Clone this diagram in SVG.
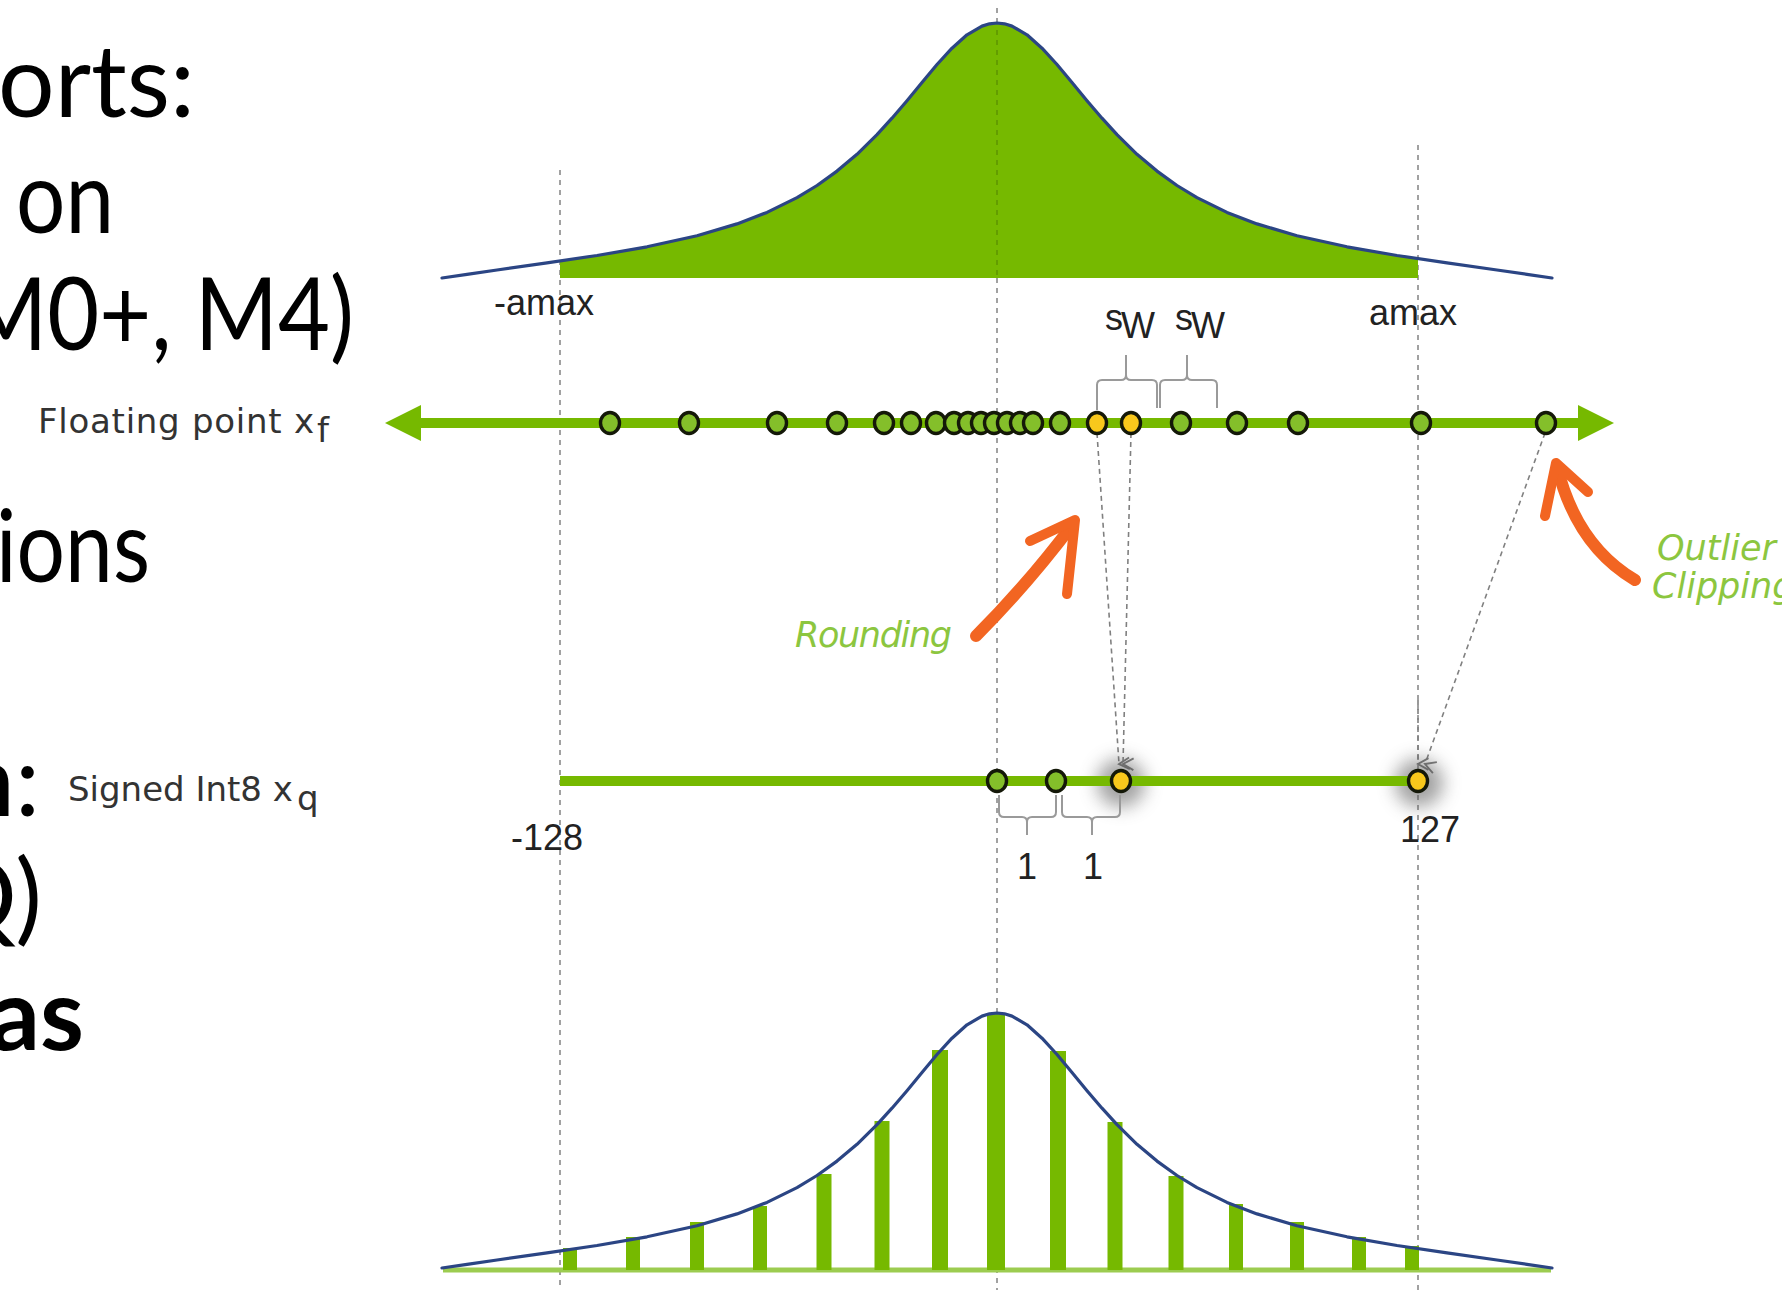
<svg xmlns="http://www.w3.org/2000/svg" xmlns:xlink="http://www.w3.org/1999/xlink" width="1782" height="1302" viewBox="0 0 1782 1302">
<defs>
<style>
.big{font-family:Lato,"Liberation Sans",sans-serif;font-size:100px;fill:#000}
.lbl{font-family:"DejaVu Sans",sans-serif;font-size:34px;fill:#333}
.num{font-family:"Liberation Sans",sans-serif;font-size:36px;fill:#222}
.hand{font-family:"DejaVu Sans",sans-serif;font-style:italic;font-size:35px;fill:#8cc63f}
.curve{fill:none;stroke:#2b4584;stroke-width:3.2;stroke-linejoin:round;stroke-linecap:round}
.vdash{stroke:#8a8a8a;stroke-width:1.6;stroke-dasharray:5 5;fill:none}
.ddash{stroke:#808080;stroke-width:1.6;stroke-dasharray:5 4;fill:none}
.axis{stroke:#76b900;stroke-width:10;fill:none}
.pt{fill:#84bf2a;stroke:#141808;stroke-width:3.4}
.yl{fill:#f8c81c;stroke:#141808;stroke-width:3.4}
.brace{fill:none;stroke:#9a9a9a;stroke-width:2}
.bar{stroke:#76b900;fill:none}
.orange{fill:none;stroke:#f26522;stroke-linecap:round;stroke-linejoin:round}
</style>
<polyline id="dist" class="curve" points="442,278 467,274.3 497,270 547,262.9 597,255.5 647,246.8 697,235.8 737,223.9 767,212.4 797,197.6 817,185.5 837,171.1 857,154.3 877,134.6 892,118.2 907,100.7 922,82.5 937,64.5 952,48.2 967,34.8 982,26.1 989.5,23.8 997,23 1004.5,23.8 1012,26.1 1027,34.8 1042,48.2 1057,64.5 1072,82.5 1087,100.7 1102,118.2 1117,134.6 1137,154.3 1157,171.1 1177,185.5 1197,197.6 1227,212.4 1257,223.9 1297,235.8 1347,246.8 1397,255.5 1447,262.9 1497,270 1527,274.3 1552,278"/>
<marker id="vhead" viewBox="0 0 12 12" refX="6" refY="10" markerWidth="14" markerHeight="14" markerUnits="userSpaceOnUse" orient="auto-start-reverse">
<path d="M1,1 L6,10 L11,1" fill="none" stroke="#7a7a7a" stroke-width="1.6"/>
</marker>
<filter id="glow" x="-1" y="-1" width="3" height="3">
<feGaussianBlur stdDeviation="9"/>
</filter>
</defs>

<rect x="0" y="0" width="1782" height="1302" fill="#ffffff"/>

<g id="slide-text">
<text class="big" x="-2" y="117" textLength="197" lengthAdjust="spacingAndGlyphs">orts:</text>
<text class="big" x="16" y="233" textLength="98" lengthAdjust="spacingAndGlyphs">on</text>
<text class="big" x="-36" y="350" textLength="390" lengthAdjust="spacingAndGlyphs">M0+, M4)</text>
<text class="big" x="-4" y="582" textLength="154" lengthAdjust="spacingAndGlyphs">ions</text>
<text class="big" x="40" y="816" text-anchor="end">n:</text>
<text class="big" x="42" y="932" text-anchor="end">Q)</text>
<text class="big" x="84" y="1050" text-anchor="end" font-weight="bold">as</text>
</g>

<g id="guides">
<line class="vdash" x1="560" y1="170" x2="560" y2="1290"/>
<line class="vdash" x1="997" y1="8" x2="997" y2="1290"/>
<line class="vdash" x1="1418" y1="145" x2="1418" y2="1290"/>
</g>

<g id="float-distribution">
<polygon fill="#76b900" points="560,278 560,261 597,255.5 647,246.8 697,235.8 737,223.9 767,212.4 797,197.6 817,185.5 837,171.1 857,154.3 877,134.6 892,118.2 907,100.7 922,82.5 937,64.5 952,48.2 967,34.8 982,26.1 989.5,23.8 997,23 1004.5,23.8 1012,26.1 1027,34.8 1042,48.2 1057,64.5 1072,82.5 1087,100.7 1102,118.2 1117,134.6 1137,154.3 1157,171.1 1177,185.5 1197,197.6 1227,212.4 1257,223.9 1297,235.8 1347,246.8 1397,255.5 1418,258.6 1418,278"/>
<line x1="997" y1="30" x2="997" y2="276" stroke="#5e9400" stroke-width="1.5" stroke-dasharray="5 5"/>
<use xlink:href="#dist" href="#dist"/>
<text class="num" x="494" y="315">-amax</text>
<text class="num" x="1369" y="325">amax</text>
</g>

<g id="connectors">
<line class="ddash" x1="1097" y1="433" x2="1119" y2="764" marker-end="url(#vhead)"/>
<line class="ddash" x1="1131" y1="433" x2="1123" y2="764" marker-end="url(#vhead)"/>
<line class="ddash" x1="1545" y1="433" x2="1425" y2="764" marker-end="url(#vhead)"/>
<line class="ddash" x1="1418" y1="700" x2="1418" y2="764" marker-end="url(#vhead)"/>
</g>

<g id="float-axis">
<line class="axis" x1="415" y1="423" x2="1582" y2="423"/>
<polygon fill="#76b900" points="385,423 421,405 421,441"/>
<polygon fill="#76b900" points="1614,423 1578,405 1578,441"/>
<text class="lbl" x="38" y="433" textLength="276">Floating point x</text>
<text class="lbl" x="317" y="442" font-size="18">f</text>
<g id="float-braces">
<path class="brace" d="M1097,410 L1097,385 Q1097,380 1102,380 L1121,380 Q1126,380 1126,375 L1126,355 M1126,375 Q1126,380 1131,380 L1152,380 Q1157,380 1157,385 L1157,408"/>
<path class="brace" d="M1160,408 L1160,385 Q1160,380 1165,380 L1182,380 Q1187,380 1187,375 L1187,355 M1187,375 Q1187,380 1192,380 L1212,380 Q1217,380 1217,385 L1217,408"/>
<text class="num" x="1105" y="330" font-size="28">s</text>
<text class="num" x="1121" y="338" font-size="18">W</text>
<text class="num" x="1175" y="330" font-size="28">s</text>
<text class="num" x="1191" y="338" font-size="18">W</text>
</g>
<g id="float-points">
<ellipse class="pt" cx="610" cy="423" rx="9.5" ry="10.5"/>
<ellipse class="pt" cx="689" cy="423" rx="9.5" ry="10.5"/>
<ellipse class="pt" cx="777" cy="423" rx="9.5" ry="10.5"/>
<ellipse class="pt" cx="837" cy="423" rx="9.5" ry="10.5"/>
<ellipse class="pt" cx="884" cy="423" rx="9.5" ry="10.5"/>
<ellipse class="pt" cx="911" cy="423" rx="9.5" ry="10.5"/>
<ellipse class="pt" cx="936" cy="423" rx="9.5" ry="10.5"/>
<ellipse class="pt" cx="954" cy="423" rx="9.5" ry="10.5"/>
<ellipse class="pt" cx="968" cy="423" rx="9.5" ry="10.5"/>
<ellipse class="pt" cx="981" cy="423" rx="9.5" ry="10.5"/>
<ellipse class="pt" cx="994" cy="423" rx="9.5" ry="10.5"/>
<ellipse class="pt" cx="1007" cy="423" rx="9.5" ry="10.5"/>
<ellipse class="pt" cx="1020" cy="423" rx="9.5" ry="10.5"/>
<ellipse class="pt" cx="1033" cy="423" rx="9.5" ry="10.5"/>
<ellipse class="pt" cx="1060" cy="423" rx="9.5" ry="10.5"/>
<ellipse class="yl" cx="1097" cy="423" rx="9.5" ry="10.5"/>
<ellipse class="yl" cx="1131" cy="423" rx="9.5" ry="10.5"/>
<ellipse class="pt" cx="1181" cy="423" rx="9.5" ry="10.5"/>
<ellipse class="pt" cx="1237" cy="423" rx="9.5" ry="10.5"/>
<ellipse class="pt" cx="1298" cy="423" rx="9.5" ry="10.5"/>
<ellipse class="pt" cx="1421" cy="423" rx="9.5" ry="10.5"/>
<ellipse class="pt" cx="1546" cy="423" rx="9.5" ry="10.5"/>
</g>
</g>

<g id="rounding-note">
<path class="orange" stroke-width="12" d="M976,636 Q1027,585 1073,524"/>
<path class="orange" stroke-width="10" d="M1030,541 L1075,520 L1067,594"/>
<text class="hand" x="795" y="647" textLength="157">Rounding</text>
</g>

<g id="clipping-note">
<path class="orange" stroke-width="12" d="M1635,580 Q1576,545 1557,466"/>
<path class="orange" stroke-width="10" d="M1545,516 L1556,463 L1588,492"/>
<text class="hand" x="1657" y="560">Outlier</text>
<text class="hand" x="1652" y="598">Clipping</text>
</g>

<g id="int8-axis">
<circle cx="1121" cy="783" r="24" fill="#555" opacity="0.55" filter="url(#glow)"/>
<circle cx="1419" cy="783" r="24" fill="#555" opacity="0.55" filter="url(#glow)"/>
<line class="axis" x1="560" y1="781" x2="1418" y2="781" stroke-width="11"/>
<ellipse class="pt" cx="997" cy="781" rx="9.5" ry="10.5"/>
<ellipse class="pt" cx="1056" cy="781" rx="9.5" ry="10.5"/>
<ellipse class="yl" cx="1121" cy="781" rx="9.5" ry="10.5"/>
<ellipse class="yl" cx="1418" cy="781" rx="9.5" ry="10.5"/>
<text class="lbl" x="68" y="801">Signed Int8 x</text>
<text class="lbl" x="297" y="810" font-size="18">q</text>
<text class="num" x="511" y="850">-128</text>
<text class="num" x="1400" y="842">127</text>
<g id="int8-braces">
<path class="brace" d="M999,795 L999,812 Q999,817 1004,817 L1022,817 Q1027,817 1027,822 L1027,835 M1027,822 Q1027,817 1032,817 L1051,817 Q1056,817 1056,812 L1056,795"/>
<path class="brace" d="M1062,795 L1062,812 Q1062,817 1067,817 L1087,817 Q1092,817 1092,822 L1092,835 M1092,822 Q1092,817 1097,817 L1115,817 Q1120,817 1120,812 L1120,795"/>
<text class="num" x="1027" y="879" text-anchor="middle" font-size="35">1</text>
<text class="num" x="1093" y="879" text-anchor="middle" font-size="35">1</text>
</g>
</g>

<g id="int8-histogram">
<line x1="443" y1="1270" x2="1551" y2="1270" stroke="#9ccc50" stroke-width="5"/>
<line class="bar" stroke-width="14" x1="570" y1="1270" x2="570" y2="1248"/>
<line class="bar" stroke-width="14" x1="633" y1="1270" x2="633" y2="1237"/>
<line class="bar" stroke-width="14" x1="697" y1="1270" x2="697" y2="1222"/>
<line class="bar" stroke-width="14" x1="760" y1="1270" x2="760" y2="1206"/>
<line class="bar" stroke-width="15" x1="824" y1="1270" x2="824" y2="1174"/>
<line class="bar" stroke-width="15" x1="882" y1="1270" x2="882" y2="1121"/>
<line class="bar" stroke-width="16" x1="940" y1="1270" x2="940" y2="1050"/>
<line class="bar" stroke-width="18" x1="996" y1="1270" x2="996" y2="1013"/>
<line class="bar" stroke-width="16" x1="1058" y1="1270" x2="1058" y2="1051"/>
<line class="bar" stroke-width="15" x1="1115" y1="1270" x2="1115" y2="1122"/>
<line class="bar" stroke-width="15" x1="1176" y1="1270" x2="1176" y2="1176"/>
<line class="bar" stroke-width="14" x1="1236" y1="1270" x2="1236" y2="1204"/>
<line class="bar" stroke-width="14" x1="1297" y1="1270" x2="1297" y2="1222"/>
<line class="bar" stroke-width="14" x1="1359" y1="1270" x2="1359" y2="1237"/>
<line class="bar" stroke-width="14" x1="1412" y1="1270" x2="1412" y2="1246"/>
<use xlink:href="#dist" href="#dist" transform="translate(0,990)"/>
</g>
</svg>
